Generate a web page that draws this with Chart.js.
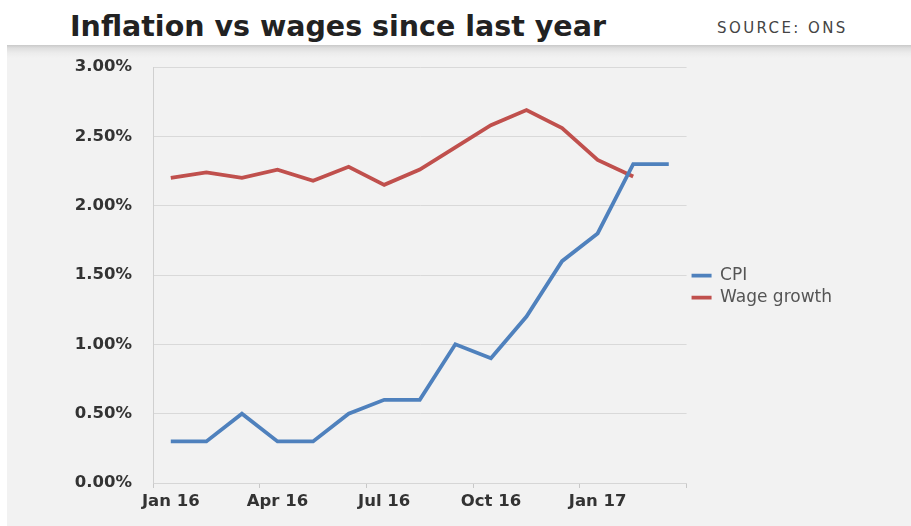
<!DOCTYPE html>
<html>
<head>
<meta charset="utf-8">
<script src="https://cdn.jsdelivr.net/npm/chart.js@4.4.1/dist/chart.umd.min.js"></script>
<style>
  html, body { margin: 0; padding: 0; background: #ffffff; width: 911px; height: 526px; overflow: hidden; }
  #title { position: absolute; left: 70px; top: 8px; font-family: "DejaVu Sans", sans-serif; font-weight: bold; font-size: 28.5px; line-height: 38px; color: #222; white-space: nowrap; }
  #source { position: absolute; left: 717px; top: 18px; font-family: "DejaVu Sans", sans-serif; font-size: 15px; line-height: 20px; letter-spacing: 2.4px; color: #444; white-space: nowrap; }
  #panel { position: absolute; left: 7px; top: 45px; width: 904px; height: 481px;
    background: linear-gradient(#c9c9c9 0px, #dedede 3px, #ececec 8px, #f2f2f2 13px, #f2f2f2 100%); }
  #wrap { position: absolute; left: 0; top: 0; width: 904px; height: 481px; }
</style>
</head>
<body>
<div id="title">Inflation vs wages since last year</div>
<div id="source">SOURCE: ONS</div>
<div id="panel"><div id="wrap"><canvas id="c"></canvas></div></div>
<script>
const categories = ['Jan 16','Feb 16','Mar 16','Apr 16','May 16','Jun 16','Jul 16','Aug 16','Sep 16','Oct 16','Nov 16','Dec 16','Jan 17','Feb 17','Mar 17'];
const cpiValues = [0.3, 0.3, 0.5, 0.3, 0.3, 0.5, 0.6, 0.6, 1.0, 0.9, 1.2, 1.6, 1.8, 2.3, 2.3];
const wageValues = [2.2, 2.24, 2.2, 2.26, 2.18, 2.28, 2.15, 2.26, 2.42, 2.58, 2.69, 2.56, 2.33, 2.21, null];
const yTicks = [0, 0.5, 1.0, 1.5, 2.0, 2.5, 3.0];
const labelEvery = 3;

const tickFont = { family: "DejaVu Sans", size: 16.5, weight: 'bold' };

new Chart(document.getElementById('c'), {
  type: 'line',
  data: {
    labels: categories,
    datasets: [
      { label: 'CPI', data: cpiValues, borderColor: '#4f81bd', backgroundColor: '#4f81bd', borderWidth: 3.8, pointRadius: 0, tension: 0, fill: false },
      { label: 'Wage growth', data: wageValues, borderColor: '#c0504d', backgroundColor: '#c0504d', borderWidth: 3.8, pointRadius: 0, tension: 0, fill: false, spanGaps: false }
    ]
  },
  options: {
    responsive: true,
    maintainAspectRatio: false,
    animation: false,
    devicePixelRatio: 1,
    layout: { padding: { left: 0, top: 22, right: 69, bottom: 0 } },
    plugins: {
      title: { display: false },
      tooltip: { enabled: false },
      legend: {
        display: true,
        position: 'right',
        align: 'start',
        title: { display: true, text: '', font: { size: 1 }, padding: { top: 0, bottom: 194 } },
        labels: {
          usePointStyle: true,
          pointStyle: 'line',
          pointStyleWidth: 20,
          padding: 5,
          color: '#555',
          font: { family: "DejaVu Sans", size: 17 }
        }
      }
    },
    scales: {
      x: {
        type: 'category',
        offset: true,
        afterFit: (s) => { s.height = 43; },
        grid: {
          offset: true,
          drawOnChartArea: false,
          drawTicks: true,
          tickLength: 5,
          color: (c) => (c.index === undefined || c.index % labelEvery === 0) ? '#c8c8c8' : 'rgba(0,0,0,0)'
        },
        border: { display: true, color: '#d6d6d6' },
        ticks: {
          autoSkip: false,
          maxRotation: 0,
          padding: 4,
          color: '#333',
          font: tickFont,
          callback: function(v, i) { return i % labelEvery === 0 ? categories[i] : ''; }
        }
      },
      y: {
        min: 0,
        max: 3,
        afterFit: (s) => { s.width = 146; },
        afterBuildTicks: (s) => { s.ticks = yTicks.map(v => ({ value: v })); },
        grid: { color: '#d9d9d9', lineWidth: 1, drawTicks: true, tickLength: 9, tickColor: 'rgba(0,0,0,0)' },
        border: { display: true, color: '#d0d0d0' },
        ticks: {
          padding: 12,
          color: '#333',
          font: tickFont,
          callback: (v) => v.toFixed(2) + '%'
        }
      }
    }
  }
});
</script>
</body>
</html>
